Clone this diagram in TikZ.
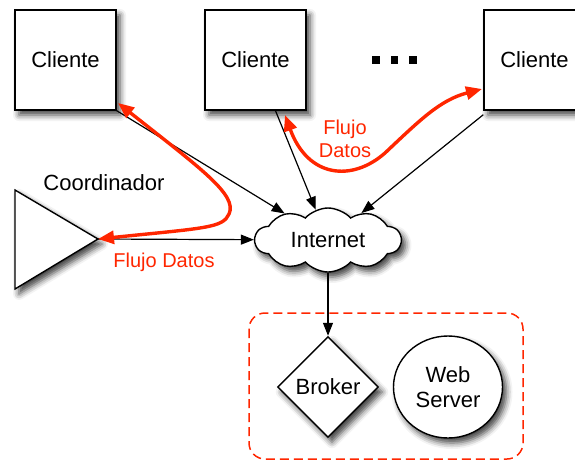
\documentclass[tikz,border=0pt]{standalone}
\usepackage{fontspec}
\setmainfont{Liberation Sans}
\usetikzlibrary{arrows.meta,shapes.geometric,shapes.symbols,shadows.blur}
\definecolor{flow}{RGB}{255,38,0}
\tikzset{
  shade/.style={blur shadow={shadow xshift=4pt,shadow yshift=-5pt,shadow blur radius=6pt,shadow opacity=75}},
  boxline/.style={draw=black,line width=1.4pt,fill=white},
  client/.style={boxline,shade,minimum width=101pt,minimum height=100pt,inner sep=0pt},
  lbl/.style={font=\fontsize{22}{25}\selectfont},
  redlbl/.style={text=flow,font=\fontsize{20}{23}\selectfont,align=center},
  link/.style={draw=black,line width=1.2pt,-{Triangle[length=13pt,width=10pt]}},
  flowline/.style={draw=flow,line width=3.4pt,{Triangle[length=16pt,width=13pt]}-{Triangle[length=16pt,width=13pt]}}
}
\begin{document}
\begin{tikzpicture}[x=1pt,y=-1pt]
\useasboundingbox (0,0) rectangle (575,461);

% clients
\node[client,lbl] (c1) at (65.5,60) {Cliente};
\node[client,lbl] (c2) at (255.5,60) {Cliente};
\node[client,lbl] (c3) at (534.5,60) {Cliente};

% ellipsis between clients
\fill (372,56) rectangle +(7.5,7.5);
\fill (390.5,56) rectangle +(7.5,7.5);
\fill (409,56) rectangle +(7.5,7.5);

% coordinator
\draw[boxline,shade] (15,190) -- (98,239) -- (15,289) -- cycle;
\coordinate (tip) at (98,239);
\node[lbl] (coordlbl) at (104,183) {Coordinador};

% internet cloud
\node[cloud,boxline,shade,cloud puffs=10,cloud puff arc=95,aspect=2.4,
      minimum width=146pt,minimum height=64pt,inner sep=1pt,lbl] (inet) at (328,240) {Internet};

% server group
\draw[flow,line width=1.5pt,dash pattern=on 9pt off 5pt,rounded corners=16pt]
  (249,313) rectangle (523,459);
\node[diamond,boxline,shade,minimum width=101pt,minimum height=101pt,inner sep=0pt,lbl] (broker) at (328,387) {Broker};
\node[ellipse,boxline,shade,minimum width=109pt,minimum height=102pt,inner sep=0pt,lbl,align=center] (web) at (448,387) {Web\\Server};

% connections to the internet
\draw[link] (c1.south east) -- (inet);
\draw[link] ([xshift=20pt]c2.south) -- (inet);
\draw[link] ([yshift=-4pt]c3.south west) -- (inet);
\draw[link] (tip) -- (inet);
\draw[link] (inet) -- (broker);

% data flows
\coordinate (f1a) at (118,103);
\coordinate (f2a) at (285,115);
\coordinate (f2b) at (482,89);
\draw[flowline] (f1a) .. controls (200,168) and (238,195) .. (229,214)
  .. controls (223,228) and (205,228) .. (tip);
\draw[flowline] (f2a) .. controls (308,178) and (352,182) .. (385,153)
  .. controls (420,120) and (440,100) .. (f2b);
\node[redlbl] (flow1) at (164,262) {Flujo Datos};
\node[redlbl] (flow2) at (345,139) {Flujo\\Datos};
\end{tikzpicture}
\end{document}
